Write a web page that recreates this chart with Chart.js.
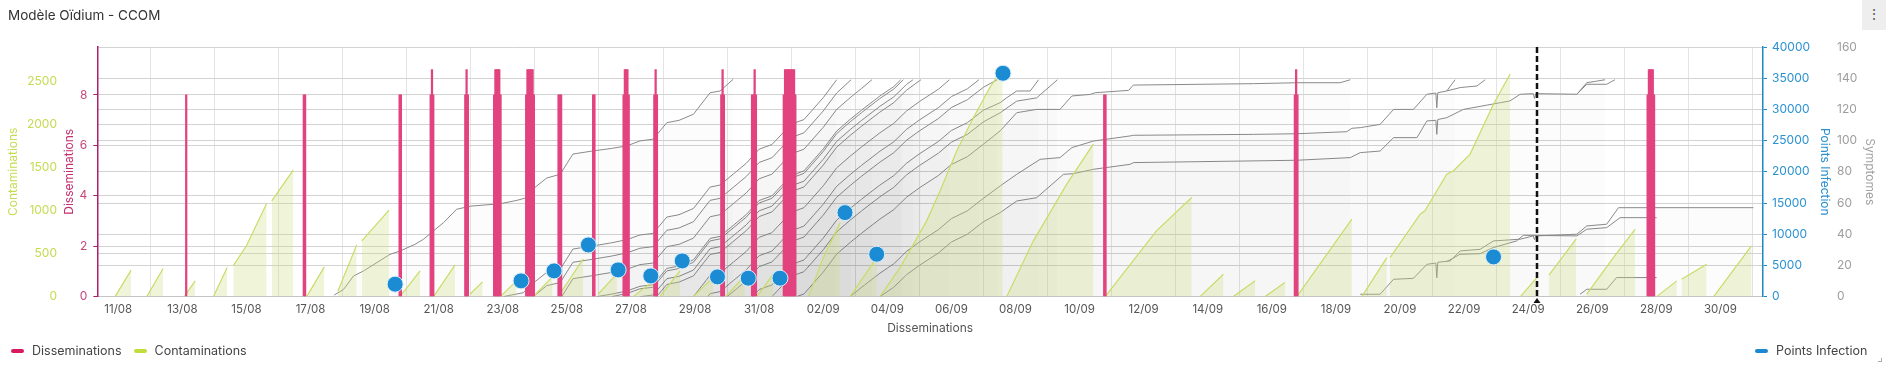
<!DOCTYPE html>
<html lang="fr">
<head>
<meta charset="utf-8">
<title>Modèle Oïdium - CCOM</title>
<script src="https://cdn.jsdelivr.net/npm/chart.js@4.4.1/dist/chart.umd.min.js"></script>
<style>
  html, body { margin: 0; padding: 0; background: #fff; }
  body { width: 1886px; height: 366px; position: relative; overflow: hidden; font-family: Inter, "Noto Sans", sans-serif; }
  #chart { position: absolute; left: 0; top: 0; }
  .title { position: absolute; left: 8px; top: 7px; font-size: 13.5px; line-height: 17px; color: #333; }
  .menu { position: absolute; right: 0; top: 0; width: 24px; height: 30px; background: #eeeeee; color: #555; font-size: 14px; line-height: 28px; text-align: center; }
  .legend { position: absolute; top: 343px; font-size: 12.5px; line-height: 16px; color: #444; display: flex; align-items: center; }
  .legend i { display: inline-block; width: 13px; height: 4px; border-radius: 2px; margin-right: 8px; }
  .legend span { margin-right: 12px; display: flex; align-items: center; }
  .grip { position: absolute; right: 4px; bottom: 4px; width: 3px; height: 3px; border-right: 1px solid #aaa; border-bottom: 1px solid #aaa; }
</style>
</head>
<body>
<canvas id="chart" width="1886" height="366"></canvas>
<div class="title">Modèle Oïdium - CCOM</div>
<div class="menu">&#8942;</div>
<div class="legend" style="left:11px"><span><i style="background:#d81b60"></i>Disseminations</span><span><i style="background:#c3dc3c"></i>Contaminations</span></div>
<div class="legend" style="left:1755px"><span><i style="background:#1b88d0"></i>Points Infection</span></div>
<div class="grip"></div>
<script>
// x values are days counted from 11/08 (00:00)
const xMin = -0.655;
const xMax = 51.33;
const todayDay = 44.29;

// tick positions
const xTickDays = [0, 2, 4, 6, 8, 10, 12, 14, 16, 18, 20, 22, 24, 26, 28, 30, 32, 34, 36, 38, 40, 42, 44, 46, 48, 50];
const contTicks = [0, 500, 1000, 1500, 2000, 2500];
const dissTicks = [0, 2, 4, 6, 8];
const infTicks = [0, 5000, 10000, 15000, 20000, 25000, 30000, 35000, 40000];
const sympTicks = [0, 20, 40, 60, 80, 100, 120, 140, 160];

// Disseminations (hourly bars)
const dissDays = [2.12,
  5.79, 5.83,
  8.78, 8.82,
  9.75, 9.79, 9.83,
  10.83, 10.87, 10.91,
  11.73, 11.77, 11.81, 11.85, 11.89, 11.93,
  12.73, 12.77, 12.81, 12.85, 12.89, 12.93, 12.97,
  13.74, 13.78, 13.82,
  14.82, 14.86,
  15.77, 15.81, 15.85, 15.89, 15.93,
  16.73, 16.77, 16.81,
  18.82, 18.86, 18.90,
  19.78, 19.82, 19.86, 19.90,
  20.77, 20.81, 20.85, 20.89, 20.93, 20.97, 21.01, 21.05, 21.09, 21.13,
  30.77, 30.81,
  36.72, 36.76, 36.80,
  47.73, 47.77, 47.81, 47.85, 47.89, 47.93];
const dissValues = [8,
  8, 8,
  8, 8,
  8, 9, 8,
  8, 9, 8,
  8, 9, 9, 9, 9, 8,
  8, 9, 9, 9, 9, 9, 8,
  8, 8, 8,
  8, 8,
  8, 9, 9, 9, 8,
  8, 9, 8,
  8, 9, 8,
  8, 8, 9, 8,
  8, 9, 9, 9, 9, 9, 9, 9, 9, 8,
  8, 8,
  8, 9, 8,
  8, 9, 9, 9, 9, 8];

// Contaminations (null = break between episodes)
const contDays = [-0.10, 0.40, 0.6, 0.89, 1.40, 1.7, 2.06, 2.40, 2.7, 2.97, 3.40, 3.5,
  3.59, 4.0, 4.63, 4.7, 4.79, 5.46, 5.6, 5.88, 6.43, 6.6, 6.85, 7.44, 7.5, 7.60, 8.45, 8.6,
  8.79, 9.42, 9.6, 9.84, 10.51, 10.7, 10.98, 11.37, 11.6, 11.92, 12.43, 12.7, 12.95, 13.55, 13.65,
  13.78, 14.51, 14.7, 14.98, 15.56, 15.8, 16.07, 16.7, 16.8, 16.9, 17.53, 17.7, 17.94, 18.56, 18.7,
  18.95, 19.55, 19.7, 19.93, 20.44, 20.9, 21.54, 22.0, 22.53, 22.7, 22.84, 23.67, 23.72,
  23.77, 24.4, 25.23, 25.65, 26.17, 26.69, 27.2, 27.6, 27.66,
  27.73, 28.56, 29.6, 30.43, 30.6, 30.8, 32.4, 33.5, 33.6, 33.76, 34.49, 34.6, 34.8, 35.48, 35.6,
  35.79, 36.41, 36.6, 36.78, 38.5, 38.6, 38.81, 39.59, 39.64,
  39.69, 40.63, 40.78, 41.46, 41.67, 42.19, 42.92, 43.44, 43.6,
  43.76, 44.27, 44.5, 44.65, 45.5, 45.7, 45.83, 46.66, 47.34, 47.6, 48.01, 48.64, 48.7,
  48.79, 49.57, 49.7, 49.79, 50.97];
const contValues = [0, 307, null, 0, 326, null, 0, 183, null, 0, 337, null,
  360, 590, 1081, null, 1113, 1470, null, 0, 345, null, 60, 601, null, 648, 1005, null,
  0, 300, null, 0, 368, null, 30, 171, null, 0, 183, null, 0, 230, null,
  30, 438, null, 30, 264, null, 0, 183, null, 0, 300, null, 0, 221, null,
  0, 240, null, 0, 260, null, 0, 450, 860, null, 0, 453, null,
  0, 337, 880, 1229, 1694, 2081, 2430, 2650, null,
  0, 648, 1307, 1772, null, 0, 764, 1151, null, 0, 260, null, 0, 183, null,
  0, 163, null, 0, 900, null, 0, 453, null,
  453, 958, 997, 1423, 1462, 1656, 2237, 2586, null,
  0, 220, null, 250, 670, null, 28, 453, 784, null, 0, 183, null,
  202, 377, null, 0, 590];

// Points Infection
const infDays = [8.64, 12.57, 13.6, 14.67, 15.6, 16.62, 17.6, 18.7, 19.66, 20.65, 22.68, 23.67, 27.61, 42.92];
const infValues = [1990, 2520, 4120, 8280, 4280, 3320, 5720, 3160, 2950, 2950, 13460, 6790, 35790, 6360];

// Symptomes: one cumulative curve per infection, [day, value]
const symA = [[6.74,1],[7.03,4.6],[7.34,13.2],[7.65,16.4],[8.07,21.8],[8.48,27.1],[8.79,29.2],[9.26,33.5],[9.52,36.7],[9.83,42],[10.15,47.4],[10.56,56],[11.0,58],[11.92,59.5],[12.44,61.7],[12.75,63.4],[13.0,70],[13.37,76],[13.79,78.4],[14.19,91.4],[14.82,93.4],[15.4,95],[15.87,96.6],[16.28,99.8],[16.69,100.9],[17.12,111.5],[17.5,113],[17.95,116.9],[18.47,130.7],[18.78,131.8],[19.19,139.3]];
const symB = [[12.02,0],[12.64,2.5],[13.0,9.5],[13.37,15.5],[13.79,17.5],[14.19,30.5],[14.82,32.5],[15.4,34.5],[15.87,36.5],[16.28,39.5],[16.69,40.5],[17.12,51],[17.5,52.5],[17.95,56.5],[18.47,70.2],[18.78,71.5],[19.19,78.5],[19.6,85.5],[20.0,94.5],[20.4,97.5],[21.0,110.5],[21.4,113.5],[22.0,127.5],[22.42,139]];
const symC = [[12.95,0],[13.37,7],[13.79,9],[14.19,22],[14.82,24],[15.4,26],[15.87,28],[16.28,31],[16.69,32],[17.12,42.5],[17.5,44],[17.95,48],[18.47,61.7],[18.78,63],[19.19,70],[19.6,77],[20.0,86],[20.4,89],[21.0,102],[21.4,105],[22.0,119],[22.42,130.5],[22.87,139]];
const symD = [[13.84,0],[14.19,11.5],[14.82,13.5],[15.4,15.5],[15.87,17.5],[16.28,20.5],[16.69,21.5],[17.12,32],[17.5,33.5],[17.95,37.5],[18.47,51.2],[18.78,52.5],[19.19,59.5],[19.6,66.5],[20.0,75.5],[20.4,78.5],[21.0,91.5],[21.4,94.5],[22.0,108.5],[22.42,120],[22.84,127.5],[23.2,133.5],[23.52,139]];
const symE = [[14.93,0],[15.4,1.6],[15.87,3.6],[16.28,6.6],[16.69,7.6],[17.12,18.1],[17.5,19.6],[17.95,23.6],[18.47,37.3],[18.78,38.6],[19.19,45.6],[19.6,52.6],[20.0,61.6],[20.4,64.6],[21.0,77.6],[21.4,80.6],[22.0,94.6],[22.42,106.1],[22.84,113.6],[23.2,119.6],[23.77,128.6],[24.2,134.6],[24.42,139]];
const symR = [[15.4,0],[15.87,2],[16.28,5],[16.69,6],[17.12,16.5],[17.5,18],[17.95,22],[18.47,35.7],[18.78,37],[19.19,44],[19.6,51],[20.0,60],[20.4,63],[21.0,76],[21.4,79],[22.0,93],[22.42,104.5],[22.84,112],[23.2,118],[23.77,127],[24.2,133],[24.5,139]];
const symS = [[16.3,0],[16.69,1],[17.12,11.5],[17.5,13],[17.95,17],[18.47,30.7],[18.78,32],[19.19,39],[19.6,46],[20.0,55],[20.4,58],[21.0,71],[21.4,74],[22.0,88],[22.42,99.5],[22.84,107],[23.2,113],[23.77,122],[24.2,128],[24.6,136],[24.8,139]];
const symF = [[16.8,0],[17.12,7.8],[17.5,9.3],[17.95,13.3],[18.47,27],[18.78,28.3],[19.19,35.3],[19.6,42.3],[20.0,51.3],[20.4,54.3],[21.0,67.3],[21.4,70.3],[22.0,84.3],[22.42,95.8],[22.84,103.3],[23.2,109.3],[23.77,118.3],[24.2,124.3],[24.6,132.3],[25.0,138.3],[25.05,139]];
const symG = [[17.95,0],[18.47,13.7],[18.78,15],[19.19,22],[19.6,29],[20.0,38],[20.4,41],[21.0,54],[21.4,57],[22.0,71],[22.42,82.5],[22.84,90],[23.2,96],[23.77,105],[24.2,111],[24.6,119],[25.0,125],[25.6,133],[25.94,139]];
const symT = [[18.4,0],[18.47,1.9],[18.78,3.2],[19.19,10.2],[19.6,17.2],[20.0,26.2],[20.4,29.2],[21.0,42.2],[21.4,45.2],[22.0,59.2],[22.42,70.7],[22.84,78.2],[23.2,84.2],[23.77,93.2],[24.2,99.2],[24.6,107.2],[25.0,113.2],[25.6,121.2],[26.0,128.2],[26.5,133.2],[26.86,139]];
const symH = [[19.0,0],[19.19,3.2],[19.6,10.2],[20.0,19.2],[20.4,22.2],[21.0,35.2],[21.4,38.2],[22.0,52.2],[22.42,63.7],[22.84,71.2],[23.2,77.2],[23.77,86.2],[24.2,92.2],[24.6,100.2],[25.0,106.2],[25.6,114.2],[26.0,121.2],[26.5,126.2],[27.0,134.2],[27.43,139]];
const symI = [[19.8,0],[20.0,4.5],[20.4,7.5],[21.0,20.5],[21.4,23.5],[22.0,37.5],[22.42,49],[22.84,56.5],[23.2,62.5],[23.77,71.5],[24.2,77.5],[24.6,85.5],[25.0,91.5],[25.6,99.5],[26.0,106.5],[26.5,111.5],[27.0,119.5],[27.52,124.3],[27.73,127.5],[28.04,131.8],[28.46,131.8],[28.72,139]];
const symU = [[20.4,0],[21.0,13],[21.4,16],[22.0,30],[22.42,41.5],[22.84,49],[23.2,55],[23.77,64],[24.2,70],[24.6,78],[25.0,84],[25.6,92],[26.0,99],[26.5,104],[27.0,112],[27.52,117.8],[28.04,125.3],[28.66,127.4],[29.31,139]];
const symJ = [[21.17,0],[21.4,1.7],[22.0,15.7],[22.42,27.2],[22.84,34.7],[23.2,40.7],[23.77,49.7],[24.2,55.7],[24.6,63.7],[25.0,69.7],[25.6,77.7],[26.0,84.7],[26.5,89.7],[27.0,97.7],[27.52,106.2],[28.04,117.9],[28.66,120],[29.39,120],[29.76,128.6],[30.33,129.6],[30.49,130.7],[31.53,132.2],[31.68,135.6],[35.43,136.5],[36.78,137.1],[38.13,137.1],[38.45,139]];
const symK = [[22.84,0],[23.2,6],[23.77,15],[24.2,21],[24.6,29],[25.0,35],[25.6,43],[26.0,50],[26.5,55],[27.0,63],[27.52,70.9],[28.04,78.4],[28.77,88],[29.39,89.1],[29.76,95.5],[30.43,99.7],[31.58,103],[31.68,103.4],[35.43,104],[36.78,104.4],[38.34,105.7],[38.5,107.9],[38.76,108.3],[39.38,110.4],[39.8,120],[40.42,120],[40.84,129.7],[41.12,130.5],[41.15,121],[41.18,130.7],[41.46,131.8],[41.72,139]];
const symM = [[23.77,0],[24.2,6],[24.6,14],[25.0,20],[25.6,28],[26.0,35],[26.5,40],[27.0,48],[27.52,53.8],[28.04,61.3],[28.66,63.4],[29.5,78.4],[29.81,78.8],[30.43,81.6],[31.58,84.8],[31.68,85.9],[36.78,87.4],[38.45,89.1],[38.76,92.3],[39.38,93.3],[39.8,101.9],[40.53,101.9],[40.84,112.6],[41.12,113],[41.15,104],[41.18,113.5],[41.46,114.7],[41.98,120],[43.13,124.3],[43.43,125.4],[43.75,129.7],[44.16,130.1],[44.2,127],[44.24,130.1],[45.52,129.7],[45.83,137.1],[46.1,138],[46.4,139]];
const symO = [[38.76,1.5],[39.38,1.5],[39.8,11.1],[40.42,11.7],[40.84,20.7],[41.12,21.5],[41.15,12],[41.18,22],[41.57,22.9],[41.88,29.3],[42.5,30.3],[42.92,35.7],[43.75,36.8],[44.16,38.9],[44.2,36.5],[44.24,38.9],[45.52,40],[45.83,45.3],[46.45,46.4],[46.82,57],[51.03,57]];
const symQ = [[45.62,1.5],[45.83,4.7],[46.45,4.7],[46.76,12.2],[48.01,12.2]];
// branches that split off an existing curve (no own fill)
const symKb = [[41.46,131.8],[41.88,134],[42.4,135],[42.66,139]];
const symMb = [[45.52,129.7],[45.83,136.1],[46.45,136.1],[46.71,139]];
const symOb = [[41.46,22.4],[41.87,27.1],[42.5,27.5],[42.91,31.4],[43.64,35.7],[43.85,39.3],[45.52,38.9],[45.83,43.2],[46.45,44.2],[46.87,50.6],[48.01,50.6]];

const symptomLines = [symA, symB, symC, symD, symE, symR, symS, symF, symG, symT, symH, symI, symU, symJ, symK, symM, symO, symQ];
const symptomBranches = [symKb, symMb, symOb];

function pad2(n) { return (n < 10 ? '0' : '') + n; }
function dayLabel(v) {
  const d = new Date(2024, 7, 11 + v);
  return pad2(d.getDate()) + '/' + pad2(d.getMonth() + 1);
}
function toPoints(days, values) {
  return days.map((d, i) => ({ x: d, y: values[i] }));
}
function fixedTicks(values) {
  return scale => { scale.ticks = values.map(v => ({ value: v })); };
}

Chart.defaults.font.family = "Inter, 'Noto Sans', sans-serif";
Chart.defaults.font.size = 12;
Chart.defaults.color = '#666';

const datasets = [];

datasets.push({
  label: 'Points Infection',
  type: 'line',
  data: toPoints(infDays, infValues),
  yAxisID: 'yP',
  showLine: false,
  pointRadius: 8,
  pointBackgroundColor: '#1b8bd3',
  pointBorderColor: '#d9eef9',
  pointBorderWidth: 1,
  order: 0
});

datasets.push({
  label: 'Disseminations',
  type: 'bar',
  data: toPoints(dissDays, dissValues),
  yAxisID: 'yD',
  backgroundColor: '#e2437f',
  borderWidth: 0,
  barThickness: 1.6,
  order: 1
});

datasets.push({
  label: 'Contaminations',
  type: 'line',
  data: toPoints(contDays, contValues),
  yAxisID: 'yC',
  borderColor: '#c9dc68',
  borderWidth: 1.2,
  backgroundColor: 'rgba(206,222,128,0.3)',
  fill: 'origin',
  spanGaps: false,
  pointRadius: 0,
  order: 2
});

symptomLines.forEach(line => {
  datasets.push({
    label: 'Symptomes',
    type: 'line',
    data: line.map(p => ({ x: p[0], y: p[1] })),
    yAxisID: 'yS',
    borderColor: '#8a8a8a',
    borderWidth: 1,
    backgroundColor: 'rgba(60,60,60,0.014)',
    fill: 'origin',
    pointRadius: 0,
    order: 3
  });
});
symptomBranches.forEach(line => {
  datasets.push({
    label: 'Symptomes',
    type: 'line',
    data: line.map(p => ({ x: p[0], y: p[1] })),
    yAxisID: 'yS',
    borderColor: '#8a8a8a',
    borderWidth: 1,
    fill: false,
    pointRadius: 0,
    order: 3
  });
});

// dashed line for the current day
const todayMarker = {
  id: 'todayMarker',
  afterDatasetsDraw(chart) {
    const { ctx, chartArea, scales } = chart;
    const x = Math.round(scales.x.getPixelForValue(todayDay));
    ctx.save();
    ctx.strokeStyle = '#111';
    ctx.lineWidth = 2.5;
    ctx.setLineDash([6, 3]);
    ctx.beginPath();
    ctx.moveTo(x, chartArea.top);
    ctx.lineTo(x, chartArea.bottom);
    ctx.stroke();
    ctx.setLineDash([]);
    ctx.fillStyle = '#111';
    ctx.beginPath();
    ctx.moveTo(x, chartArea.bottom + 1.5);
    ctx.lineTo(x - 3.5, chartArea.bottom + 6.5);
    ctx.lineTo(x + 3.5, chartArea.bottom + 6.5);
    ctx.closePath();
    ctx.fill();
    ctx.restore();
  }
};

const gridGray = '#d3d3d3';

new Chart(document.getElementById('chart'), {
  type: 'line',
  data: { datasets: datasets },
  plugins: [todayMarker],
  options: {
    responsive: false,
    animation: false,
    events: [],
    layout: { padding: { left: 2, right: 7, top: 47, bottom: 26.4 } },
    plugins: {
      legend: { display: false },
      tooltip: { enabled: false }
    },
    scales: {
      x: {
        type: 'linear',
        min: xMin,
        max: xMax,
        offset: false,
        afterBuildTicks: fixedTicks(xTickDays),
        ticks: {
          autoSkip: false,
          maxRotation: 0,
          color: '#555',
          padding: 6,
          font: { size: 11.5 },
          callback: v => dayLabel(v)
        },
        grid: { color: '#e4e4e4', drawTicks: false },
        border: { color: '#c4c4c4' },
        title: { display: true, text: 'Disseminations', color: '#555', font: { size: 12 }, padding: { top: 4, bottom: 4 } },
        afterFit: s => { s.height = 43; }
      },
      yD: {
        position: 'left',
        weight: 0,
        min: 0,
        max: 9.9,
        afterBuildTicks: fixedTicks(dissTicks),
        ticks: { color: '#c7477b', padding: 6, callback: v => String(v) },
        grid: { color: gridGray, tickColor: '#b01d6c', tickLength: 4 },
        border: { color: '#b01d6c', width: 1.5 },
        title: { display: true, text: 'Disseminations', color: '#c4306f', padding: { top: 0, bottom: 0 } },
        afterFit: s => { s.width = 35.3; }
      },
      yC: {
        position: 'left',
        weight: 1,
        min: 0,
        max: 2900,
        afterBuildTicks: fixedTicks(contTicks),
        ticks: { color: '#c6da52', padding: 5, callback: v => String(v) },
        grid: {
          drawTicks: false,
          color: ctx => (ctx.tick && (ctx.tick.value === 500 || ctx.tick.value === 2000)) ? gridGray : 'rgba(0,0,0,0)'
        },
        border: { display: false },
        title: { display: true, text: 'Contaminations', color: '#c6da52', padding: { top: 4, bottom: 0 } },
        afterFit: s => { s.width = 60; }
      },
      yP: {
        position: 'right',
        weight: 0,
        min: 0,
        max: 40000,
        afterBuildTicks: fixedTicks(infTicks),
        ticks: { color: '#2b92d2', padding: 5, callback: v => String(v) },
        grid: { color: gridGray, tickColor: '#1f86c8', tickLength: 4 },
        border: { color: '#1f86c8', width: 1.5 },
        title: { display: true, text: 'Points Infection', color: '#2b8fd0', padding: { top: 2, bottom: 0 } },
        afterFit: s => { s.width = 71; }
      },
      yS: {
        position: 'right',
        weight: 1,
        min: 0,
        max: 160,
        afterBuildTicks: fixedTicks(sympTicks),
        ticks: { color: '#9e9e9e', padding: 3, callback: v => String(v) },
        grid: { display: false, drawTicks: false },
        border: { display: false },
        title: { display: true, text: 'Symptomes', color: '#a3a3a3', padding: { top: 2, bottom: 0 } },
        afterFit: s => { s.width = 45; }
      }
    }
  }
});
</script>
</body>
</html>
